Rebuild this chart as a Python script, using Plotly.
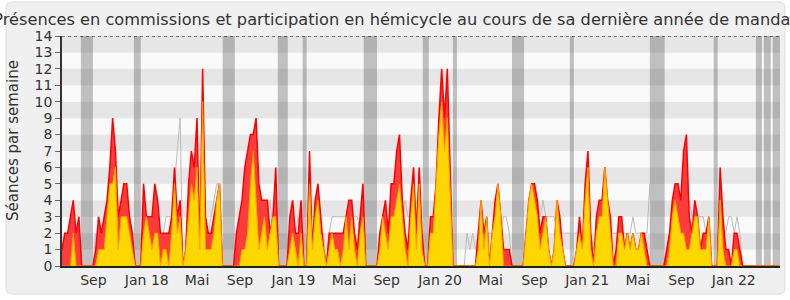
import plotly.graph_objects as go
import pandas as pd

# ---------------- data ----------------
weeks = pd.date_range("2017-06-05", periods=256, freq="7D")

presences = [1,2,2,3,4,2,3, 0,0,0,0,0, 1,
             3,2,3,4,6,9,7,3,4,5,5,3,2, 0,0,0,
             5,3,3,3,5,4,2,2,2,2,3,6,3,4, 0,
             1,5,7,6,9,1,12,3,2,2,3,4,5, 0,0,0,0,0,
             2,3,4,6,7,8,8,9,5,4,4,4,2,3,6, 0,0,0,0,
             3,4,2,2,4, 0,0, 7,1,4,5,3,1, 0,
             2,2,2,2,2,2,3,4,4,2,1,3,5, 0,0,0,0,0,
             2,3,4,2,5,5,7,8,4,2,1,4,6,2,6,2, 0,0,
             3,3,5,9,12,9,12,6, 0,0,0,0,0,0,0,0,0,
             2,4,2,3,0,2,4,5,3,1,1,1, 0,0,0,0,0,
             2,4,5,5,4,2,3,3,1,0,1,4,3,1, 0,0,0,0,
             1,3,1,5,7,2,0,3,4,4,6,4,3,0,1,3,3,1,2,1,2,1,1,2,2,1, 0,0,0,0,0,0,
             1,2,4,5,5,4,7,8,3,2,4,3,1,2,2,3, 0,0,0,
             6,3,1,1,0,2,2,1, 0,0,0,0,0,0,0,0,0,0,0,0,0,0]

hemicycle = [0,0,0,0,2,0,0, 0,0,0,0,0, 0,
             1,1,1,3,5,5,6,1,3,3,3,2,1, 0,0,0,
             2,3,2,1,2,2,0,1,1,0,2,5,2,3, 0,
             1,3,5,4,6,1,10,1,1,1,2,4,5, 0,0,0,0,0,
             0,0,1,1,2,5,7,4,1,2,3,1,2,3,3, 0,0,0,0,
             1,2,1,0,2, 0,0, 5,1,3,4,2,1, 0,
             1,2,1,1,0,1,3,1,3,1,0,2,3, 0,0,0,0,0,
             1,3,2,1,3,3,4,5,3,1,0,3,5,1,5,1, 0,0,
             2,2,5,8,10,7,9,4, 0,0,0,0,0,0,0,0,0,
             1,4,1,3,0,2,3,5,3,0,0,0, 0,0,0,0,0,
             2,4,5,4,3,1,2,3,1,0,1,4,2,1, 0,0,0,0,
             1,2,1,4,6,1,0,2,3,3,6,4,2,0,0,2,2,1,2,1,2,1,1,2,1,0, 0,0,0,0,0,0,
             0,1,3,4,3,2,2,1,1,2,3,3,1,1,1,3, 0,0,0,
             4,1,0,0,0,1,1,0, 0,0,0,0,0,0,0,0,0,0,0,0,0,0]

mediane = [1,1,1,2,2,2,2, 0,0,0,0,0, 2,
           2,2,2,3,3,4,4,3,3,3,3,2,2, 0,0,0,
           3,2,2,2,3,2,1,2,3,3,3,5,7,9, 0,
           1,3,4,4,5,1,5,3,2,3,4,5,5, 0,0,0,0,0,
           1,2,2,3,3,4,4,4,3,3,3,3,4,2,2, 0,0,0,0,
           2,2,2,3,2, 0,0, 3,3,3,3,2,2, 0,
           2,3,3,3,3,3,3,3,3,3,3,2,2, 0,0,0,0,0,
           1,2,2,2,3,3,3,3,3,4,3,3,3,2,3,2, 0,0,
           2,2,3,3,4,4,4,3, 0,0,0,0,0,2,1,2,1,
           2,2,2,2,2,2,2,2,2,3,3,2, 0,0,0,0,0,
           1,2,3,3,4,3,4,3,3,3,3,2,2,2, 2,2,2,2,
           2,2,2,2,3,2,1,2,2,3,3,3,2,2,2,2,2,2,2,2,3,2,2,2,2,2, 5,0,0,0,0,0,
           1,2,2,3,3,3,3,3,4,3,3,3,3,3,2,2, 0,0,0,
           2,2,2,3,3,2,3,2, 0,0,0,0,0,0,0,0,0,0,0,0,0,0]

holiday_start = ["2017-07-22", "2017-12-01", "2018-07-10", "2018-11-24", "2019-01-25",
                 "2019-06-26", "2019-11-20", "2020-02-03", "2020-06-29", "2020-11-20",
                 "2021-06-07", "2021-11-13", "2022-02-26", "2022-03-18", "2022-04-09"]
holiday_end = ["2017-08-21", "2017-12-18", "2018-08-09", "2018-12-19", "2019-02-04",
               "2019-07-29", "2019-12-05", "2020-02-13", "2020-07-29", "2020-11-30",
               "2021-07-14", "2021-11-23", "2022-03-13", "2022-04-04", "2022-04-27"]

tick_dates = ["2017-08-22", "2018-01-02", "2018-05-07", "2018-08-22", "2019-01-02",
              "2019-05-08", "2019-08-22", "2020-01-02", "2020-05-07", "2020-08-24",
              "2021-01-02", "2021-05-08", "2021-08-25", "2022-01-02"]
tick_labels = ["Sep", "Jan 18", "Mai", "Sep", "Jan 19", "Mai", "Sep", "Jan 20",
               "Mai", "Sep", "Jan 21", "Mai", "Sep", "Jan 22"]

title = "Présences en commissions et participation en hémicycle au cours de sa dernière année de mandat"
ytitle = "Séances par semaine"

# ---------------- layout geometry ----------------
W, H = 790, 300
L, R, T, B = 62, 10, 36, 34
PW, PH = W - L - R, H - T - B


def px2x(px):
    return (px - L) / PW


def py2y(py):
    return (H - B - py) / PH


FONT = "DejaVu Sans"

fig = go.Figure()

fig.add_trace(go.Scatter(x=weeks, y=mediane, mode="lines",
                         line=dict(color="#bcbcbc", width=1), hoverinfo="skip"))
fig.add_trace(go.Scatter(x=weeks, y=presences, mode="lines", fill="tozeroy",
                         fillcolor="#ff3c3c", line=dict(color="#ff0000", width=1.5),
                         hoverinfo="skip"))
fig.add_trace(go.Scatter(x=weeks, y=hemicycle, mode="lines", fill="tozeroy",
                         fillcolor="#ffd700", line=dict(color="#ffa200", width=1),
                         hoverinfo="skip"))

shapes = []
# rounded panel
x0, x1, y0, y1, r = 6, 785, 2, 294, 6
path = (f"M {px2x(x0 + r)} {py2y(y0)} L {px2x(x1 - r)} {py2y(y0)} "
        f"Q {px2x(x1)} {py2y(y0)} {px2x(x1)} {py2y(y0 + r)} "
        f"L {px2x(x1)} {py2y(y1 - r)} Q {px2x(x1)} {py2y(y1)} {px2x(x1 - r)} {py2y(y1)} "
        f"L {px2x(x0 + r)} {py2y(y1)} Q {px2x(x0)} {py2y(y1)} {px2x(x0)} {py2y(y1 - r)} "
        f"L {px2x(x0)} {py2y(y0 + r)} Q {px2x(x0)} {py2y(y0)} {px2x(x0 + r)} {py2y(y0)} Z")
shapes.append(dict(type="path", path=path, xref="paper", yref="paper",
                   fillcolor="#f0f0f0", line=dict(color="#dcdcdc", width=1), layer="below"))
# horizontal bands
for k in range(14):
    shapes.append(dict(type="rect", xref="paper", yref="y", x0=0, x1=1, y0=k, y1=k + 1,
                       fillcolor="#e6e6e6" if k % 2 == 1 else "#fafafa",
                       line=dict(width=0), layer="below"))
# holiday bars
for s, e in zip(holiday_start, holiday_end):
    shapes.append(dict(type="rect", xref="x", yref="paper", x0=s, x1=e, y0=0, y1=1,
                       fillcolor="rgba(60,60,60,0.3)", line=dict(width=0), layer="below"))
# dotted top line
shapes.append(dict(type="line", xref="paper", yref="y", x0=0, x1=1, y0=14, y1=14,
                   line=dict(color="#000000", width=1, dash="dot"), layer="above"))

fig.update_layout(
    width=W, height=H,
    margin=dict(l=L, r=R, t=T, b=B, pad=0),
    paper_bgcolor="#ffffff",
    plot_bgcolor="rgba(0,0,0,0)",
    showlegend=False,
    hovermode=False,
    shapes=shapes,
    font=dict(family=FONT, color="#333333"),
    title=dict(text=title, x=0.5, xref="container", xanchor="center",
               y=1 - 19.5 / H, yanchor="middle", font=dict(size=16.2, color="#333333", family=FONT)),
    xaxis=dict(range=["2017-06-05", "2022-04-27"], tickvals=tick_dates, ticktext=tick_labels,
               ticks="", showgrid=False, zeroline=False, showline=True,
               linecolor="#222222", linewidth=2, tickfont=dict(size=14, color="#333333"),
               fixedrange=True),
    yaxis=dict(range=[0, 14], dtick=1, tick0=0, showgrid=False, zeroline=False,
               showline=True, linecolor="#333333", linewidth=1.5,
               ticks="outside", ticklen=5, tickcolor="#666666", tickwidth=1,
               tickfont=dict(size=14, color="#333333"), fixedrange=True),
    annotations=[dict(text=ytitle, xref="paper", yref="paper", x=px2x(13), y=py2y(141),
                      textangle=-90, showarrow=False, xanchor="center", yanchor="middle",
                      font=dict(size=15, color="#333333", family=FONT))],
)

fig.write_html("out.html", config={"displayModeBar": False})
